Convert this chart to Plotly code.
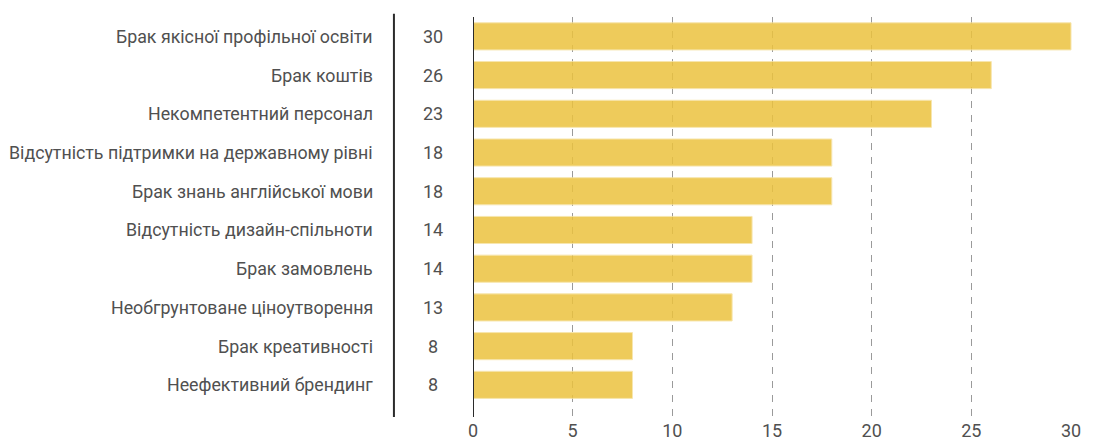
import plotly.graph_objects as go

# Problems named by respondents, ordered from most to least frequent
categories = [
    "Брак якісної профільної освіти",
    "Брак коштів",
    "Некомпетентний персонал",
    "Відсутність підтримки на державному рівні",
    "Брак знань англійської мови",
    "Відсутність дизайн-спільноти",
    "Брак замовлень",
    "Необгрунтоване ціноутворення",
    "Брак креативності",
    "Неефективний брендинг",
]
values = [30, 26, 23, 18, 18, 14, 14, 13, 8, 8]
x_ticks = [0, 5, 10, 15, 20, 25, 30]

TEXT = "#505050"
FONT = "Roboto"
pos = list(range(len(categories)))

fig = go.Figure()
# Slightly translucent bars so the dashed grid shows faintly through them
fig.add_trace(go.Bar(
    x=values,
    y=pos,
    orientation="h",
    width=0.7,
    marker=dict(color="#ECC23F", opacity=0.85,
                line=dict(color="#F6E2A0", width=1)),
    hoverinfo="skip",
))

# Category names and the column of values to the left of the plot
for p, name, v in zip(pos, categories, values):
    fig.add_annotation(x=-0.1636, y=p, xref="paper", yref="y", text=name,
                       showarrow=False, xanchor="right", yanchor="middle",
                       font=dict(family=FONT, size=17.8, color=TEXT))
    fig.add_annotation(x=-0.0668, y=p, xref="paper", yref="y", text=str(v),
                       showarrow=False, xanchor="center", yanchor="middle",
                       font=dict(family=FONT, size=18, color=TEXT))

# Separator line between names and values block
fig.add_shape(type="line", xref="paper", yref="paper",
              x0=-0.132, x1=-0.132, y0=0, y1=1.008,
              line=dict(color="#2b2b2b", width=2))
# Zero baseline
fig.add_shape(type="line", xref="x", yref="paper",
              x0=0, x1=0, y0=0, y1=1,
              line=dict(color="#2b2b2b", width=2))

fig.update_layout(
    width=1097, height=440,
    margin=dict(l=473, r=25, t=17, b=23, autoexpand=False),
    paper_bgcolor="white", plot_bgcolor="white",
    showlegend=False,
    xaxis=dict(
        range=[0, 30.05],
        tickvals=x_ticks,
        ticktext=[str(t) for t in x_ticks],
        showgrid=True, gridcolor="#9a9a9a", griddash="7px,7px", gridwidth=1,
        zeroline=False, showline=False, ticks="",
        ticklabelstandoff=1,
        automargin=False,
        tickfont=dict(family=FONT, size=18, color=TEXT),
        fixedrange=True,
    ),
    yaxis=dict(
        range=[9.83, -0.5],
        showticklabels=False, showgrid=False, zeroline=False,
        showline=False, ticks="", fixedrange=True, automargin=False,
    ),
)

fig.write_html("out.html")
